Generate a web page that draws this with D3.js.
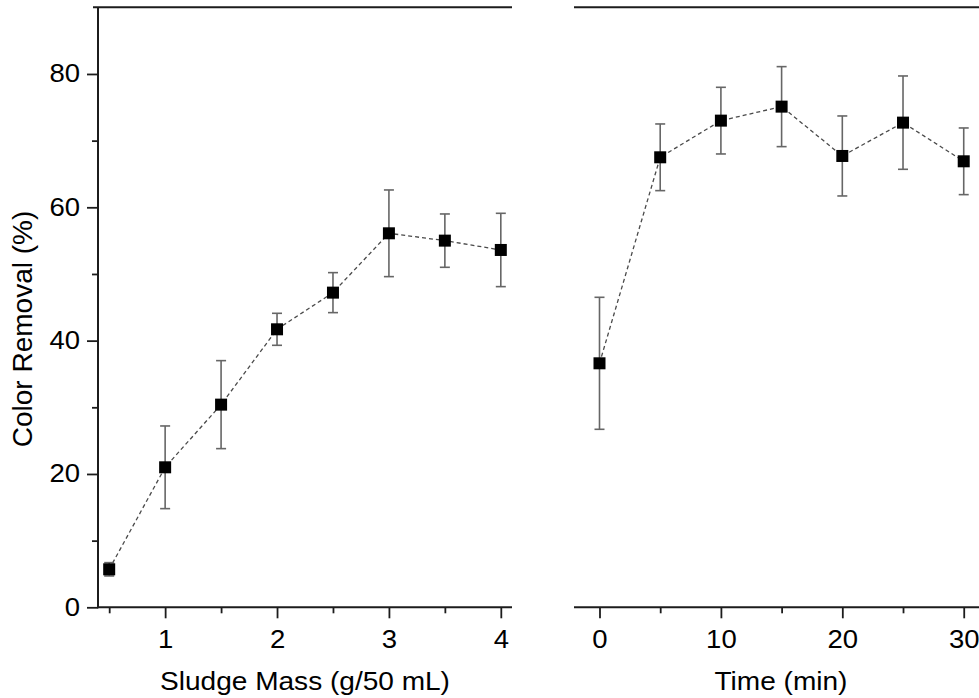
<!DOCTYPE html>
<html>
<head>
<meta charset="utf-8">
<script src="https://cdn.jsdelivr.net/npm/d3@7"></script>
<style>
  html, body { margin: 0; padding: 0; background: #fff; }
  svg { display: block; }
  text { font-family: "Liberation Sans", Arial, sans-serif; fill: #000; }
</style>
</head>
<body>
<svg id="chart" width="979" height="698"></svg>
<script>
// Color removal vs. sludge mass (left) and vs. contact time (right)
const massX = [0.5, 1, 1.5, 2, 2.5, 3, 3.5, 4];
const massRemoval = [5.7, 21.0, 30.4, 41.7, 47.2, 56.1, 55.0, 53.6];
const massErr = [1.0, 6.2, 6.6, 2.4, 3.0, 6.5, 4.0, 5.5];

const timeX = [0, 5, 10, 15, 20, 25, 30];
const timeRemoval = [36.6, 67.5, 73.0, 75.1, 67.7, 72.7, 66.9];
const timeErr = [9.9, 5.0, 5.0, 6.0, 6.0, 7.0, 5.0];

const yMajorTicks = [0, 20, 40, 60, 80];
const yMinorTicks = [10, 30, 50, 70];
const massMajorTicks = [1, 2, 3, 4];
const massMinorTicks = [0.5, 1.5, 2.5, 3.5];
const timeMajorTicks = [0, 10, 20, 30];
const timeMinorTicks = [5, 15, 25];

const yTitle = "Color Removal (%)";
const massTitle = "Sludge Mass (g/50 mL)";
const timeTitle = "Time (min)";

const svg = d3.select("#chart");
const FS = 25;          // tick label size
const TFS = 25.5;       // axis title size
const SX = 1.1;         // horizontal stretch of the lettering
const axisColor = "#1c1c1c";
const plotTop = 7.3, plotBottom = 607.3;

const y = d3.scaleLinear().domain([0, 90]).range([plotBottom, plotTop]);

const panels = [
  { xs: massX, ys: massRemoval, es: massErr, domain: [0.4, 4.1], range: [98, 512],
    major: massMajorTicks, minor: massMinorTicks, title: massTitle, yAxis: true },
  { xs: timeX, ys: timeRemoval, es: timeErr, domain: [-2.1, 32], range: [574, 988],
    major: timeMajorTicks, minor: timeMinorTicks, title: timeTitle, yAxis: false }
];

function styleAxis(g) {
  g.select(".domain").remove();
  g.selectAll(".tick line").attr("stroke", axisColor).attr("stroke-width", 1.8);
  g.selectAll(".tick text").attr("font-size", FS).attr("fill", "#000")
    .attr("font-family", "Liberation Sans, Arial, sans-serif");
}

panels.forEach(p => {
  const x = d3.scaleLinear().domain(p.domain).range(p.range);
  const g = svg.append("g");

  // bottom axis: major ticks with labels, minor ticks without
  g.append("g").attr("transform", `translate(0,${plotBottom})`)
    .call(d3.axisBottom(x).tickValues(p.major).tickSize(11).tickPadding(12).tickFormat(d3.format("d")))
    .call(styleAxis)
    .call(a => a.selectAll(".tick text").attr("transform", `scale(${SX},1)`));
  g.append("g").attr("transform", `translate(0,${plotBottom})`)
    .call(d3.axisBottom(x).tickValues(p.minor).tickSize(6).tickFormat(""))
    .call(styleAxis);

  const x0 = p.range[0], x1 = p.range[1];
  // bottom axis line
  g.append("line").attr("x1", x0).attr("x2", x1).attr("y1", plotBottom).attr("y2", plotBottom)
    .attr("stroke", axisColor).attr("stroke-width", 2);
  // top frame line
  g.append("line").attr("x1", p.yAxis ? x0 - 5 : x0).attr("x2", x1).attr("y1", plotTop).attr("y2", plotTop)
    .attr("stroke", axisColor).attr("stroke-width", 2);

  if (p.yAxis) {
    g.append("g").attr("transform", `translate(${x0},0)`)
      .call(d3.axisLeft(y).tickValues(yMajorTicks).tickSize(11).tickPadding(7).tickFormat(d3.format("d")))
      .call(styleAxis)
      .call(a => a.selectAll(".tick text").attr("x", -18 / SX).attr("transform", `scale(${SX},1)`));
    g.append("g").attr("transform", `translate(${x0},0)`)
      .call(d3.axisLeft(y).tickValues(yMinorTicks).tickSize(6).tickFormat(""))
      .call(styleAxis);
    g.append("line").attr("x1", x0).attr("x2", x0).attr("y1", plotTop).attr("y2", plotBottom + 1)
      .attr("stroke", axisColor).attr("stroke-width", 2);
  }

  const pts = p.xs.map((v, i) => ({ x: v, y: p.ys[i], e: p.es[i] }));

  // dashed connecting line
  g.append("path").datum(pts)
    .attr("d", d3.line().x(d => x(d.x)).y(d => y(d.y)))
    .attr("fill", "none").attr("stroke", "#4a4a4a").attr("stroke-width", 1.3)
    .attr("stroke-dasharray", "4,3");

  // error bars
  const eb = g.append("g").attr("stroke", "#666").attr("stroke-width", 1.6);
  eb.selectAll("line.v").data(pts).join("line").attr("class", "v")
    .attr("x1", d => x(d.x)).attr("x2", d => x(d.x))
    .attr("y1", d => y(d.y - d.e)).attr("y2", d => y(d.y + d.e));
  eb.selectAll("line.c1").data(pts).join("line").attr("class", "c1")
    .attr("x1", d => x(d.x) - 5).attr("x2", d => x(d.x) + 5)
    .attr("y1", d => y(d.y + d.e)).attr("y2", d => y(d.y + d.e));
  eb.selectAll("line.c2").data(pts).join("line").attr("class", "c2")
    .attr("x1", d => x(d.x) - 5).attr("x2", d => x(d.x) + 5)
    .attr("y1", d => y(d.y - d.e)).attr("y2", d => y(d.y - d.e));

  // square markers
  const s = 12;
  g.selectAll("rect.pt").data(pts).join("rect").attr("class", "pt")
    .attr("x", d => x(d.x) - s / 2).attr("y", d => y(d.y) - s / 2)
    .attr("width", s).attr("height", s).attr("fill", "#000");

  // axis title
  g.append("text")
    .attr("transform", `translate(${(x0 + x1) / 2},690) scale(${SX},1)`)
    .attr("text-anchor", "middle").attr("font-size", TFS).text(p.title);
});

// y axis title
svg.append("text")
  .attr("transform", `translate(32,329) rotate(-90)`)
  .attr("text-anchor", "middle").attr("font-size", 28).text(yTitle);
</script>
</body>
</html>
